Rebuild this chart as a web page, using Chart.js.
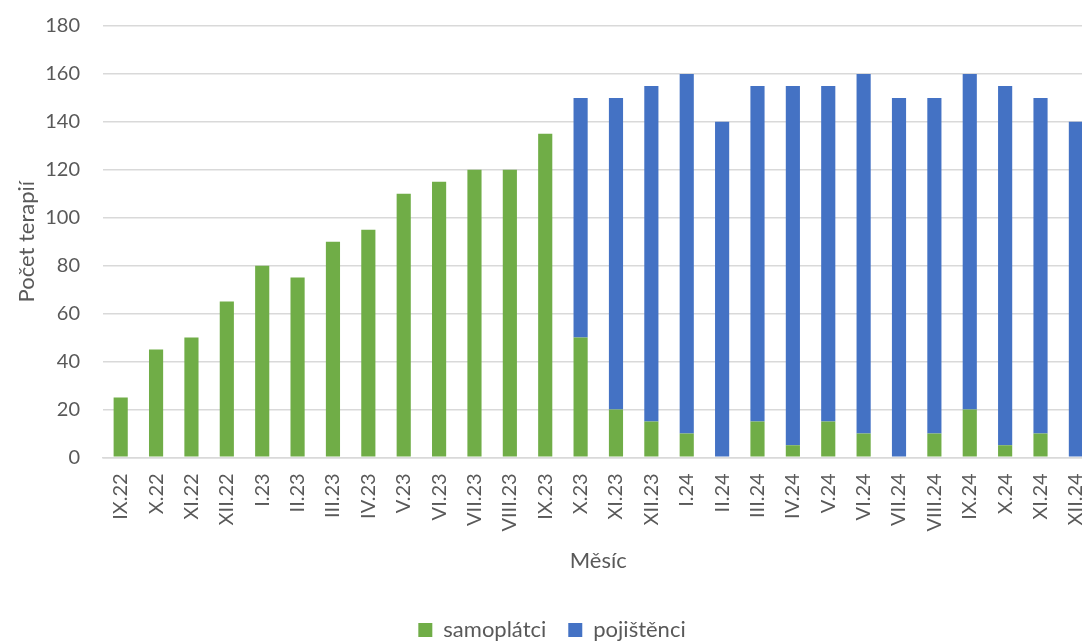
<!DOCTYPE html>
<html>
<head>
<meta charset="utf-8">
<script src="https://cdn.jsdelivr.net/npm/chart.js@4"></script>
<style>
  html, body { margin: 0; padding: 0; background: #fff; overflow: hidden; }
  #wrap { width: 1116px; height: 642px; }
</style>
</head>
<body>
<div id="wrap"><canvas id="chart" width="1116" height="642"></canvas></div>
<script>
var months = ['IX.22', 'X.22', 'XI.22', 'XII.22', 'I.23', 'II.23', 'III.23', 'IV.23', 'V.23', 'VI.23',
  'VII.23', 'VIII.23', 'IX.23', 'X.23', 'XI.23', 'XII.23', 'I.24', 'II.24', 'III.24', 'IV.24',
  'V.24', 'VI.24', 'VII.24', 'VIII.24', 'IX.24', 'X.24', 'XI.24', 'XII.24'];
var samoplatci = [25, 45, 50, 65, 80, 75, 90, 95, 110, 115, 120, 120, 135, 50, 20, 15, 10, 0, 15, 5,
  15, 10, 0, 10, 20, 5, 10, 0];
var pojistenci = [0, 0, 0, 0, 0, 0, 0, 0, 0, 0, 0, 0, 0, 100, 130, 140, 150, 140, 140, 150,
  140, 150, 150, 140, 140, 150, 140, 140];

var textColor = '#595959';
var fontFamily = 'Lato, "Open Sans", sans-serif';

// the original chart is cut off on the right, so the legend sits left of the canvas centre
var shiftLegend = {
  id: 'shiftLegend',
  afterLayout: function (chart) {
    if (!chart.legend) return;
    chart.legend.left -= 10;
    chart.legend.right -= 10;
  }
};

new Chart(document.getElementById('chart').getContext('2d'), {
  type: 'bar',
  data: {
    labels: months,
    datasets: [
      { label: 'samoplátci', data: samoplatci, backgroundColor: '#70AD47', borderWidth: 0 },
      { label: 'pojištěnci', data: pojistenci, backgroundColor: '#4472C4', borderWidth: 0 }
    ]
  },
  plugins: [shiftLegend],
  options: {
    responsive: false,
    animation: false,
    layout: { padding: { top: 26, right: 6, left: 14, bottom: -9 } },
    datasets: { bar: { categoryPercentage: 1, barPercentage: 0.4 } },
    scales: {
      x: {
        stacked: true,
        grid: { display: false, drawTicks: false },
        border: { color: '#D9D9D9', width: 1.5 },
        ticks: { color: textColor, font: { family: fontFamily, size: 20 }, minRotation: 90, maxRotation: 90, padding: 16, autoSkip: false },
        title: { display: true, text: 'Měsíc', color: textColor, font: { family: fontFamily, size: 22 }, padding: { top: 0, bottom: 23 } }
      },
      y: {
        stacked: true,
        min: 0,
        max: 180,
        afterFit: function (scale) {
          scale.width = 89;
          scale.paddingTop = 0;
          scale.paddingBottom = 0;
        },
        grid: { color: '#D9D9D9', lineWidth: 1.5, drawTicks: false },
        border: { display: false },
        ticks: { stepSize: 20, color: textColor, font: { family: fontFamily, size: 20 }, padding: 23 },
        title: { display: true, text: 'Počet terapií', color: textColor, font: { family: fontFamily, size: 22 }, padding: { top: 0, bottom: 0 } }
      }
    },
    plugins: {
      legend: {
        position: 'bottom',
        labels: { color: textColor, font: { family: fontFamily, size: 22 }, boxWidth: 14, boxHeight: 14, padding: 22 }
      },
      tooltip: { enabled: false }
    }
  }
});
</script>
</body>
</html>
